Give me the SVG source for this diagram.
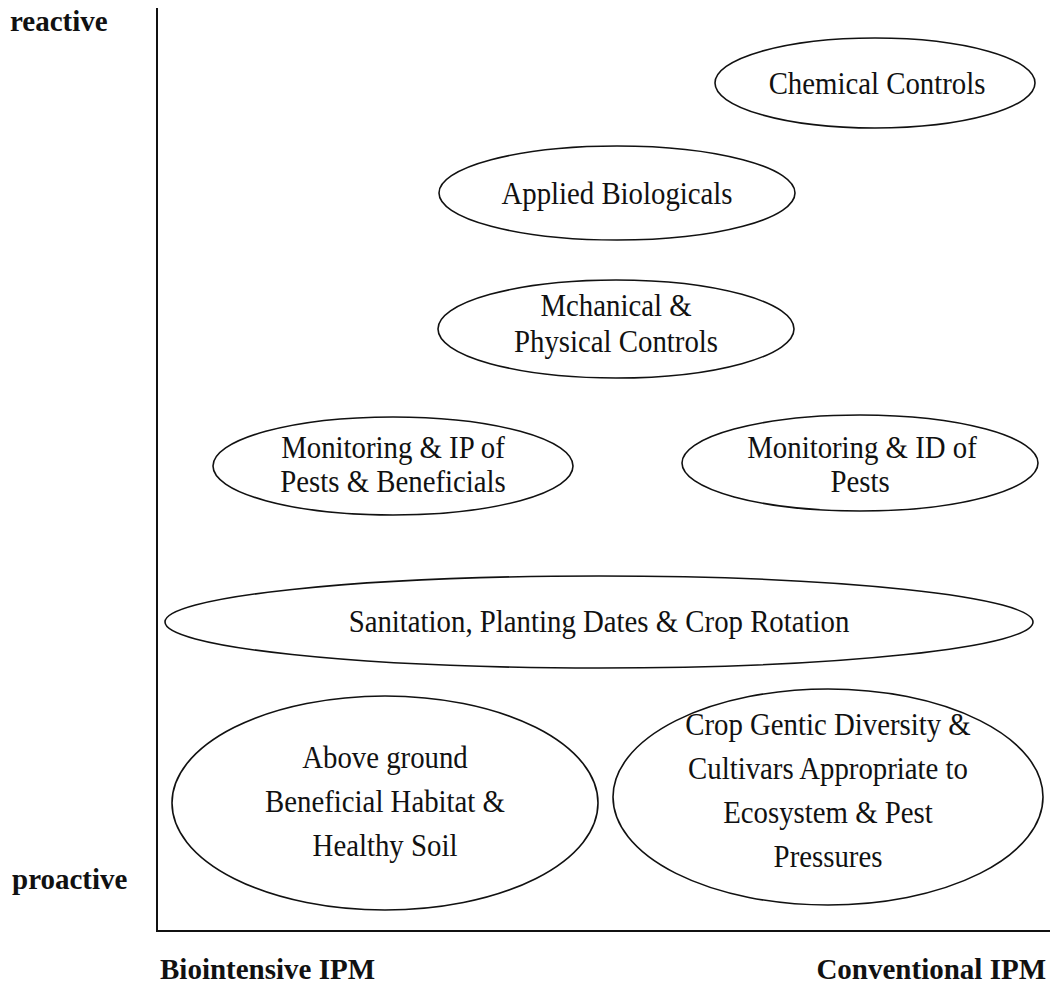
<svg xmlns="http://www.w3.org/2000/svg" width="1050" height="983" viewBox="0 0 1050 983">
<style>
.bg{fill:#ffffff}
.node ellipse{fill:#ffffff;stroke:#111111;stroke-width:1.6}
.node text{font-family:"Liberation Serif","Times New Roman",serif;font-size:32px;fill:#111111;text-anchor:middle}
.axis{stroke:#111111;stroke-width:2;fill:none}
.lab{font-family:"Liberation Serif","Times New Roman",serif;font-size:29px;font-weight:bold;fill:#111111}
</style>
<rect class="bg" x="0" y="0" width="1050" height="983"/>
<g id="axes">
<line class="axis" x1="157" y1="8" x2="157" y2="932"/>
<line class="axis" x1="156" y1="931" x2="1050" y2="931"/>
</g>
<g id="labels">
<text class="lab" x="10" y="31">reactive</text>
<text class="lab" x="12" y="889">proactive</text>
<text class="lab" x="160" y="979">Biointensive IPM</text>
<text class="lab" x="1046" y="979" text-anchor="end">Conventional IPM</text>
</g>
<g id="connectors"></g>
<g id="chemical" class="node">
<ellipse cx="875" cy="83" rx="160" ry="45"/>
<text transform="translate(877,94) scale(0.9,1)">Chemical Controls</text>
</g>
<g id="biologicals" class="node">
<ellipse cx="617" cy="193" rx="178" ry="47"/>
<text transform="translate(617,204) scale(0.9,1)">Applied Biologicals</text>
</g>
<g id="mechanical" class="node">
<ellipse cx="616" cy="329" rx="178" ry="49"/>
<text transform="translate(616,316) scale(0.9,1)">Mchanical &amp;</text>
<text transform="translate(616,352) scale(0.9,1)">Physical Controls</text>
</g>
<g id="monitoring-ip" class="node">
<ellipse cx="393" cy="466" rx="180" ry="49"/>
<text transform="translate(393,458) scale(0.9,1)">Monitoring &amp; IP of</text>
<text transform="translate(393,492) scale(0.9,1)">Pests &amp; Beneficials</text>
</g>
<g id="monitoring-id" class="node">
<ellipse cx="860" cy="463" rx="178" ry="48"/>
<text transform="translate(862,458) scale(0.9,1)">Monitoring &amp; ID of</text>
<text transform="translate(860,492) scale(0.9,1)">Pests</text>
</g>
<g id="sanitation" class="node">
<ellipse cx="599" cy="622" rx="434" ry="46"/>
<text transform="translate(599,632) scale(0.9,1)">Sanitation, Planting Dates &amp; Crop Rotation</text>
</g>
<g id="habitat" class="node">
<ellipse cx="385" cy="803" rx="213" ry="107"/>
<text transform="translate(385,768) scale(0.9,1)">Above ground</text>
<text transform="translate(385,812) scale(0.9,1)">Beneficial Habitat &amp;</text>
<text transform="translate(385,856) scale(0.9,1)">Healthy Soil</text>
</g>
<g id="genetic" class="node">
<ellipse cx="828" cy="797" rx="215" ry="108"/>
<text transform="translate(828,735) scale(0.9,1)">Crop Gentic Diversity &amp;</text>
<text transform="translate(828,779) scale(0.9,1)">Cultivars Appropriate to</text>
<text transform="translate(828,823) scale(0.9,1)">Ecosystem &amp; Pest</text>
<text transform="translate(828,867) scale(0.9,1)">Pressures</text>
</g>
</svg>
